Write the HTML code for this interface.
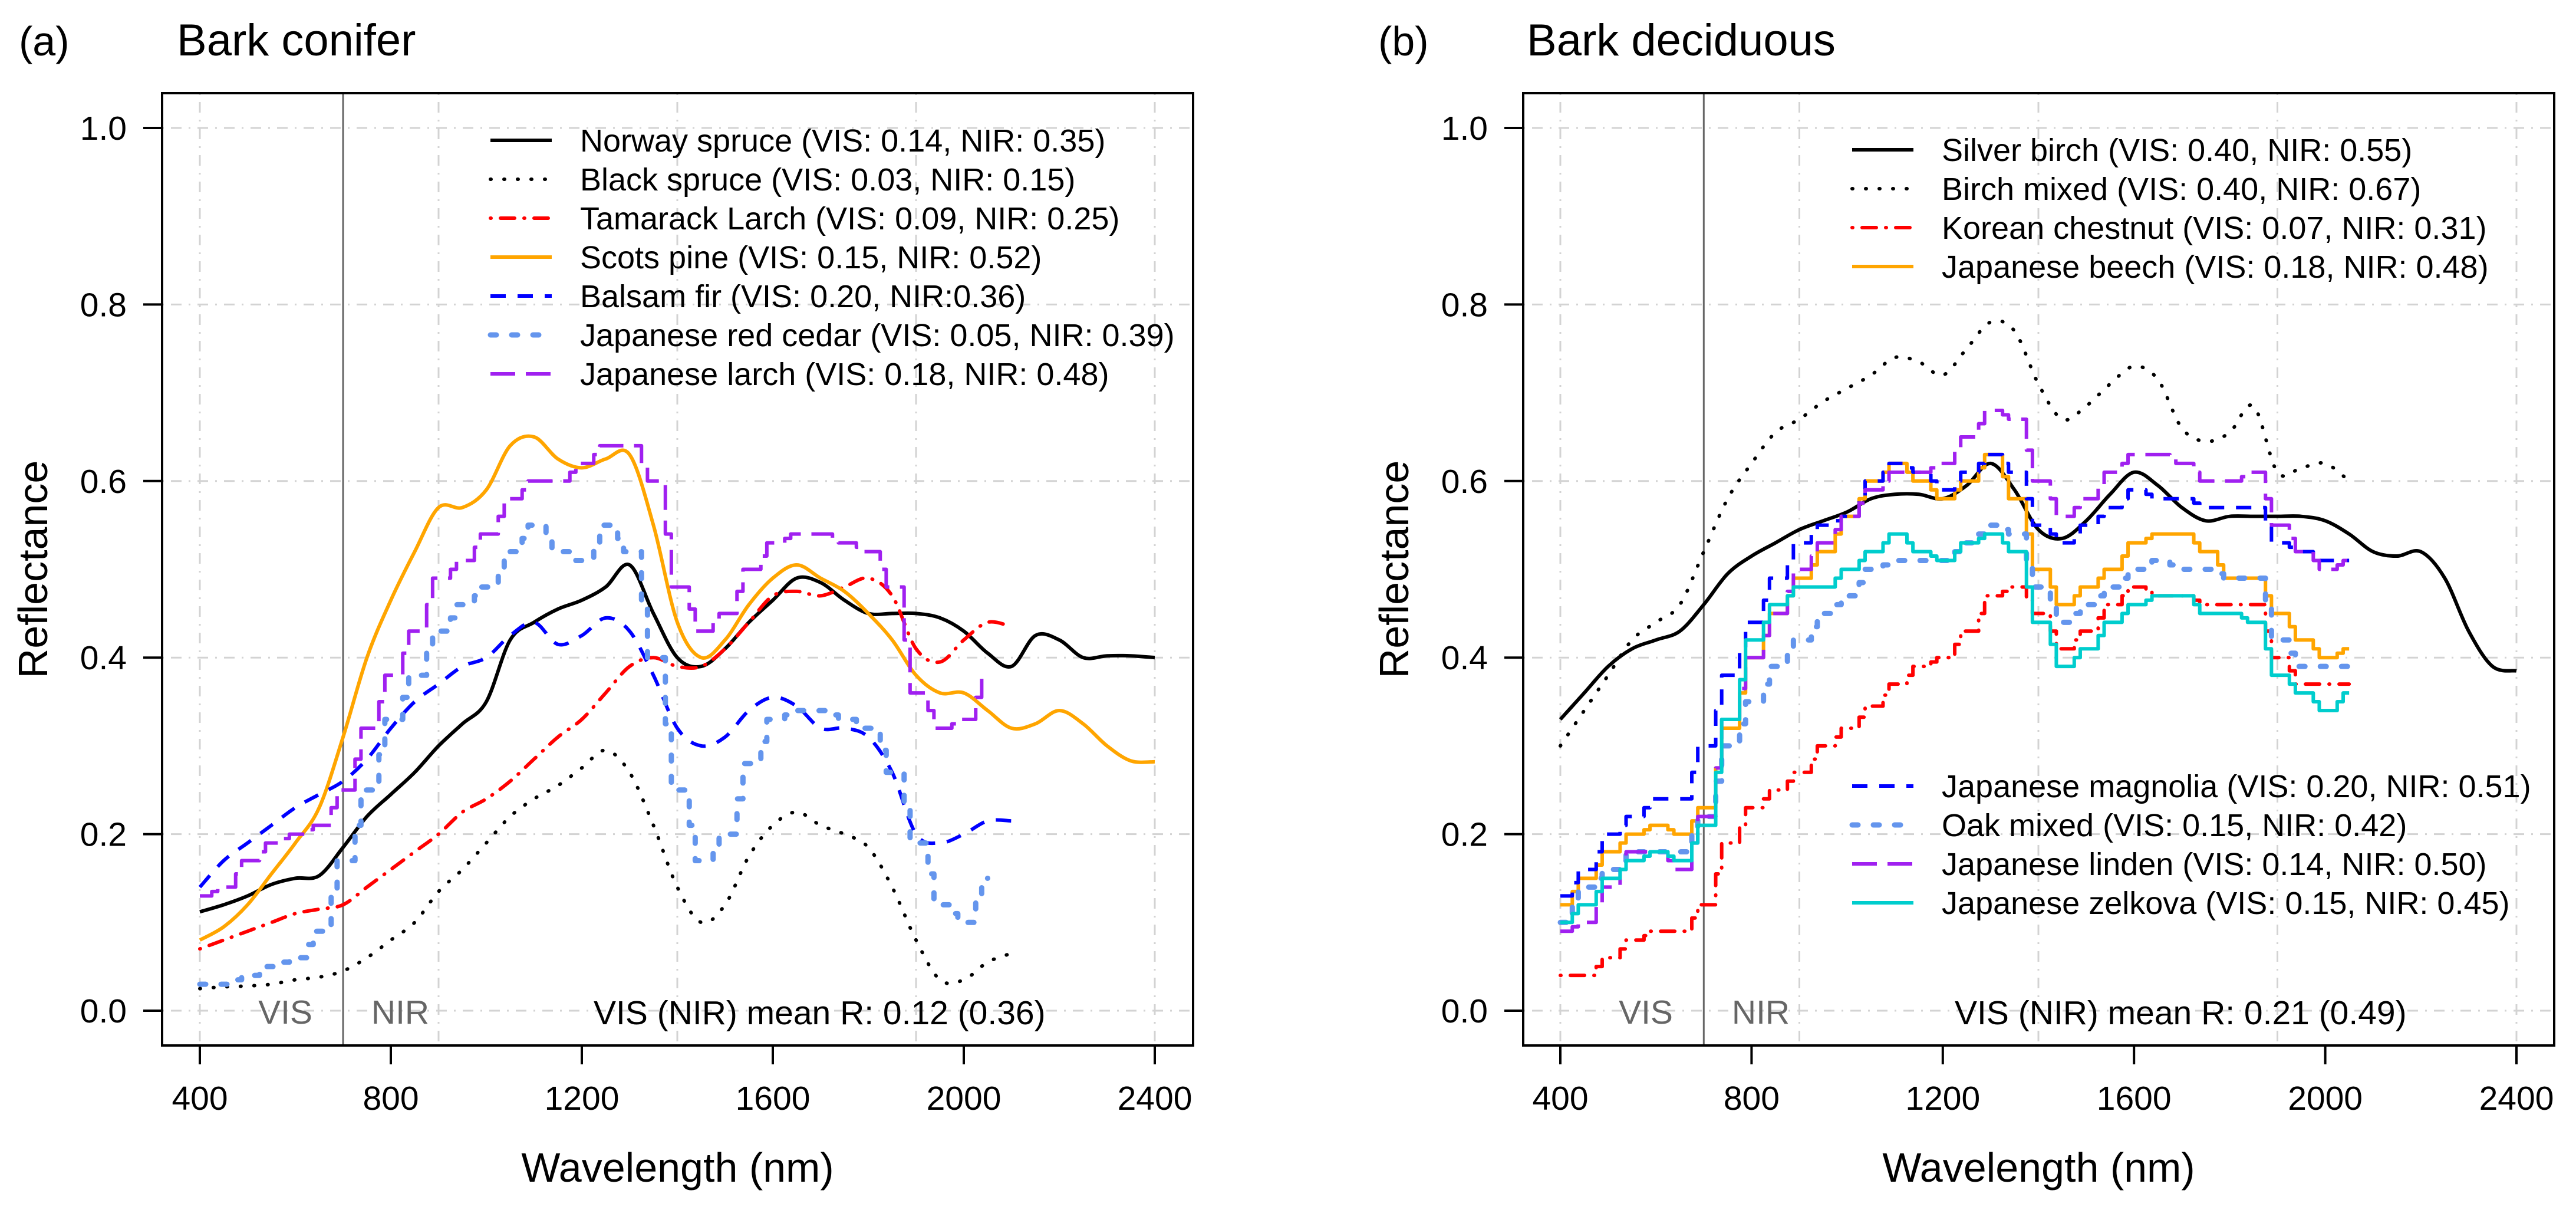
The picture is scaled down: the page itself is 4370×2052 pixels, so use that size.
<!DOCTYPE html>
<html><head><meta charset="utf-8"><style>
html,body{margin:0;padding:0;background:#fff}
svg{display:block}
text{font-family:"Liberation Sans",Arial,sans-serif}
</style></head><body>
<svg id="chart" xmlns="http://www.w3.org/2000/svg" width="4370" height="2052" viewBox="0 0 4370 2052"></svg>
<script>
// ---------- data ----------
const wl2400=[400,450,500,550,600,650,700,750,800,850,900,950,1000,1050,1100,1150,1200,1250,1300,1350,1400,1450,1500,1550,1600,1650,1700,1750,1800,1850,1900,1950,2000,2050,2100,2150,2200,2250,2300,2350,2400];
const wl2100=[400,450,500,550,600,650,700,750,800,850,900,950,1000,1050,1100,1150,1200,1250,1300,1350,1400,1450,1500,1550,1600,1650,1700,1750,1800,1850,1900,1950,2000,2050,2100];
const wl2050=[400,450,500,550,600,650,700,750,800,850,900,950,1000,1050,1100,1150,1200,1250,1300,1350,1400,1450,1500,1550,1600,1650,1700,1750,1800,1850,1900,1950,2000,2050];
const xTicks=[400,800,1200,1600,2000,2400];
const xGrid=[400,900,1400,1900,2400];
const yTicks=[0,0.2,0.4,0.6,0.8,1.0];
const yTickLabels=["0.0","0.2","0.4","0.6","0.8","1.0"];

// panel a
const norwaySpruce=[0.112,0.12,0.13,0.143,0.15,0.153,0.185,0.22,0.245,0.27,0.30,0.325,0.35,0.42,0.44,0.455,0.465,0.48,0.505,0.45,0.40,0.39,0.41,0.44,0.465,0.49,0.485,0.465,0.45,0.45,0.45,0.445,0.43,0.405,0.39,0.425,0.42,0.40,0.402,0.402,0.40];
const blackSpruce=[0.025,0.027,0.028,0.03,0.035,0.038,0.045,0.06,0.08,0.10,0.135,0.16,0.19,0.22,0.24,0.255,0.275,0.295,0.27,0.21,0.14,0.10,0.12,0.175,0.21,0.225,0.21,0.20,0.185,0.14,0.08,0.035,0.035,0.055,0.065];
const tamarackLarch=[0.07,0.08,0.09,0.10,0.11,0.115,0.12,0.14,0.16,0.18,0.20,0.225,0.24,0.26,0.285,0.31,0.33,0.36,0.39,0.40,0.39,0.39,0.41,0.44,0.47,0.475,0.47,0.48,0.49,0.47,0.41,0.395,0.42,0.44,0.435];
const scotsPine=[0.08,0.095,0.12,0.155,0.19,0.23,0.31,0.40,0.465,0.52,0.57,0.57,0.59,0.64,0.65,0.625,0.615,0.625,0.63,0.55,0.44,0.40,0.42,0.46,0.49,0.505,0.49,0.475,0.45,0.42,0.38,0.36,0.36,0.34,0.32,0.325,0.34,0.325,0.30,0.283,0.282];
const balsamFir=[0.14,0.17,0.19,0.21,0.23,0.245,0.26,0.285,0.32,0.35,0.37,0.39,0.40,0.425,0.44,0.415,0.425,0.445,0.43,0.38,0.32,0.30,0.31,0.34,0.355,0.345,0.32,0.32,0.31,0.27,0.20,0.19,0.20,0.215,0.215];
const redCedar=[0.03,0.03,0.04,0.05,0.06,0.09,0.17,0.25,0.33,0.38,0.43,0.46,0.48,0.52,0.55,0.52,0.51,0.55,0.52,0.40,0.25,0.17,0.20,0.28,0.33,0.34,0.34,0.33,0.32,0.27,0.19,0.12,0.10,0.15];
const japLarch=[0.13,0.14,0.17,0.19,0.20,0.21,0.25,0.32,0.38,0.43,0.49,0.51,0.54,0.58,0.60,0.60,0.62,0.64,0.64,0.60,0.48,0.43,0.45,0.50,0.53,0.54,0.54,0.53,0.52,0.48,0.36,0.32,0.33,0.38];
// panel b
const silverBirch=[0.33,0.36,0.39,0.41,0.42,0.43,0.46,0.495,0.515,0.53,0.545,0.555,0.565,0.58,0.585,0.585,0.58,0.595,0.62,0.59,0.545,0.535,0.555,0.585,0.61,0.595,0.57,0.555,0.56,0.56,0.56,0.56,0.555,0.54,0.52,0.515,0.52,0.49,0.43,0.39,0.385];
const birchMixed=[0.30,0.34,0.38,0.42,0.44,0.46,0.52,0.58,0.62,0.655,0.67,0.69,0.705,0.72,0.74,0.735,0.72,0.75,0.78,0.77,0.71,0.67,0.685,0.71,0.73,0.715,0.66,0.645,0.655,0.685,0.61,0.615,0.62,0.60];
const koreanChestnut=[0.04,0.04,0.06,0.08,0.09,0.09,0.12,0.19,0.23,0.25,0.27,0.30,0.32,0.345,0.37,0.39,0.40,0.43,0.47,0.48,0.45,0.41,0.43,0.46,0.48,0.47,0.47,0.46,0.46,0.46,0.40,0.37,0.37,0.37];
const japBeech=[0.12,0.15,0.18,0.20,0.21,0.20,0.23,0.32,0.40,0.45,0.49,0.52,0.56,0.60,0.62,0.60,0.58,0.60,0.63,0.58,0.50,0.46,0.48,0.50,0.53,0.54,0.54,0.52,0.49,0.49,0.45,0.42,0.40,0.41];
const japMagnolia=[0.13,0.16,0.20,0.22,0.24,0.24,0.30,0.38,0.44,0.49,0.53,0.55,0.56,0.60,0.62,0.61,0.59,0.61,0.63,0.61,0.55,0.53,0.55,0.57,0.59,0.58,0.58,0.57,0.57,0.57,0.53,0.52,0.51,0.51];
const oakMixed=[0.10,0.14,0.16,0.18,0.18,0.18,0.22,0.30,0.35,0.39,0.42,0.45,0.47,0.50,0.51,0.51,0.51,0.53,0.55,0.54,0.48,0.44,0.46,0.48,0.50,0.51,0.50,0.50,0.49,0.49,0.42,0.39,0.39,0.39];
const japLinden=[0.09,0.10,0.14,0.18,0.18,0.16,0.22,0.33,0.40,0.45,0.50,0.53,0.56,0.59,0.61,0.61,0.62,0.65,0.68,0.67,0.60,0.56,0.58,0.61,0.63,0.63,0.62,0.60,0.60,0.61,0.55,0.52,0.50,0.51];
const japZelkova=[0.10,0.12,0.15,0.17,0.18,0.17,0.21,0.33,0.42,0.46,0.48,0.48,0.50,0.52,0.54,0.52,0.51,0.53,0.54,0.52,0.44,0.39,0.41,0.44,0.46,0.47,0.47,0.45,0.45,0.44,0.38,0.36,0.34,0.36];

// ---------- styles ----------
const ST={
 solidBlack:{c:"#000",w:6,d:""},
 dotBlack:{c:"#000",w:6,d:"1 22",cap:"round"},
 dotdashRed:{c:"#ff0000",w:6,d:"1 16 24 16",cap:"round"},
 orange:{c:"#ffa500",w:6,d:""},
 dashBlue:{c:"#0000ff",w:6,d:"26 20"},
 dotCorn:{c:"#6495ed",w:9,d:"10 26",cap:"round"},
 longPurple:{c:"#a020f0",w:6,d:"42 18"},
 cyan:{c:"#00cdcd",w:6,d:""}
};

const svg=document.getElementById('chart');
const NS="http://www.w3.org/2000/svg";
function mk(tag,attrs,parent){const e=document.createElementNS(NS,tag);for(const k in attrs)e.setAttribute(k,attrs[k]);(parent||svg).appendChild(e);return e;}
function txt(str,attrs,parent){const e=mk('text',attrs,parent);e.textContent=str;return e;}

function panel(cfg){
 const g=mk('g',{});
 
 
 const x0=cfg.x400, pxPerNm=(cfg.x2400-cfg.x400)/2000;
 const X=w=>x0+(w-400)*pxPerNm;
 const Y=v=>1714-v*1497;
 xGrid.forEach(w=>{const l=mk('line',{x1:X(w),x2:X(w),y1:cfg.top,y2:1773,stroke:"#d3d3d3","stroke-width":3,"stroke-dasharray":"3 12 18 12"},g);
  });
 yTicks.forEach(v=>{const l=mk('line',{x1:cfg.left,x2:cfg.right,y1:Y(v),y2:Y(v),stroke:"#d3d3d3","stroke-width":3,"stroke-dasharray":"3 12 18 12"},g);
  });
 const vl=mk('line',{x1:X(700),x2:X(700),y1:cfg.top,y2:1773,stroke:"#666","stroke-width":3},g);
 
 cfg.series.forEach(s=>{
  const pts=s.y.map((v,i)=>[X(s.x[i]),Y(v)]);
  let d=`M${pts[0][0]},${pts[0][1]}`;
  for(let i=1;i<pts.length;i++){
   const [px,py]=pts[i];
   if(s.step){
    const [qx,qy]=pts[i-1];
    const m=(qx+px)/2;
    d+=` H${m} V${(qy+py)/2} H${(m+px)/2} V${py} H${px}`;
   } else {
    const p0=pts[Math.max(0,i-2)],p1=pts[i-1],p2=pts[i],p3=pts[Math.min(pts.length-1,i+1)];
    const c1x=p1[0]+(p2[0]-p0[0])/6,c1y=p1[1]+(p2[1]-p0[1])/6;
    const c2x=p2[0]-(p3[0]-p1[0])/6,c2y=p2[1]-(p3[1]-p1[1])/6;
    d+=` C${c1x},${c1y} ${c2x},${c2y} ${p2[0]},${p2[1]}`;
   }
  }
  const st=ST[s.style];
  const p=mk('path',{d:d,fill:"none",stroke:st.c,"stroke-width":st.w,"stroke-dasharray":st.d||"none","stroke-linecap":st.cap||"butt","stroke-linejoin":"round"},g);
  
  
 });
 const b=mk('rect',{x:cfg.left,y:cfg.top,width:cfg.right-cfg.left,height:1773-cfg.top,fill:"none",stroke:"#000","stroke-width":4},g);
 
 xTicks.forEach(w=>{const t=mk('line',{x1:X(w),x2:X(w),y1:1773,y2:1805,stroke:"#000","stroke-width":4},g);
  
  const l=txt(String(w),{x:X(w),y:1882,"font-size":57,"text-anchor":"middle"},g);
  });
 yTicks.forEach((v,i)=>{const t=mk('line',{x1:cfg.left-32,x2:cfg.left,y1:Y(v),y2:Y(v),stroke:"#000","stroke-width":4},g);
  
  const l=txt(yTickLabels[i],{x:cfg.left-60,y:Y(v)+20,"font-size":57,"text-anchor":"end"},g);
  });
 const xt=txt("Wavelength (nm)",{x:(cfg.left+cfg.right)/2,y:2004,"font-size":70,"text-anchor":"middle"},g);
 
 const yx=cfg.left-195, yy=(217+1714)/2;
 const yt=txt("Reflectance",{x:yx,y:yy,"font-size":70,"text-anchor":"middle",transform:`rotate(-90 ${yx} ${yy})`},g);
 
 const pl=txt(cfg.label,{x:cfg.labelX,y:94,"font-size":70},g);
 
 const ti=txt(cfg.title,{x:cfg.titleX,y:94,"font-size":76},g);
 
 const vis=txt("VIS",{x:cfg.visX,y:1736,"font-size":57,fill:"#666","text-anchor":"middle"},g);
 
 const nir=txt("NIR",{x:cfg.nirX,y:1736,"font-size":57,fill:"#666","text-anchor":"middle"},g);
 
 const mt=txt(cfg.meanText,{x:cfg.meanX,y:1737,"font-size":57},g);
 
 cfg.legends.forEach(lg=>{
  lg.items.forEach((it,i)=>{
   const yy=lg.y0+i*66;
   const st=ST[it.style];
   const le=mk('g',{},g);
   
   
   mk('line',{x1:lg.x,x2:lg.x+104,y1:yy,y2:yy,stroke:st.c,"stroke-width":st.w,"stroke-dasharray":st.d||"none","stroke-linecap":st.cap||"butt"},le);
   txt(it.t,{x:lg.x+152,y:yy+19,"font-size":54},le);
  });
 });
}

panel({name:"panel-a-bark-conifer",x400:339,x2400:1959,left:275,right:2024,top:158,label:"(a)",labelX:32,title:"Bark conifer",titleX:300,
 visX:484,nirX:679,meanX:1007,meanText:"VIS (NIR) mean R: 0.12 (0.36)",
 series:[
  {id:"norway-spruce",x:wl2400,y:norwaySpruce,style:"solidBlack"},
  {id:"black-spruce",x:wl2100,y:blackSpruce,style:"dotBlack"},
  {id:"tamarack-larch",x:wl2100,y:tamarackLarch,style:"dotdashRed"},
  {id:"scots-pine",x:wl2400,y:scotsPine,style:"orange"},
  {id:"balsam-fir",x:wl2100,y:balsamFir,style:"dashBlue"},
  {id:"japanese-red-cedar",x:wl2050,y:redCedar,style:"dotCorn",step:true},
  {id:"japanese-larch",x:wl2050,y:japLarch,style:"longPurple",step:true}],
 legends:[{x:832,y0:238,items:[
  {t:"Norway spruce (VIS: 0.14, NIR: 0.35)",style:"solidBlack"},
  {t:"Black spruce (VIS: 0.03, NIR: 0.15)",style:"dotBlack"},
  {t:"Tamarack Larch (VIS: 0.09, NIR: 0.25)",style:"dotdashRed"},
  {t:"Scots pine (VIS: 0.15, NIR: 0.52)",style:"orange"},
  {t:"Balsam fir (VIS: 0.20, NIR:0.36)",style:"dashBlue"},
  {t:"Japanese red cedar (VIS: 0.05, NIR: 0.39)",style:"dotCorn"},
  {t:"Japanese larch (VIS: 0.18, NIR: 0.48)",style:"longPurple"}]}]
});

panel({name:"panel-b-bark-deciduous",x400:2647,x2400:4269,left:2584,right:4333,top:158,label:"(b)",labelX:2338,title:"Bark deciduous",titleX:2590,
 visX:2792,nirX:2987,meanX:3316,meanText:"VIS (NIR) mean R: 0.21 (0.49)",
 series:[
  {id:"silver-birch",x:wl2400,y:silverBirch,style:"solidBlack"},
  {id:"birch-mixed",x:wl2050,y:birchMixed,style:"dotBlack"},
  {id:"korean-chestnut",x:wl2050,y:koreanChestnut,style:"dotdashRed",step:true},
  {id:"japanese-beech",x:wl2050,y:japBeech,style:"orange",step:true},
  {id:"japanese-magnolia",x:wl2050,y:japMagnolia,style:"dashBlue",step:true},
  {id:"oak-mixed",x:wl2050,y:oakMixed,style:"dotCorn",step:true},
  {id:"japanese-linden",x:wl2050,y:japLinden,style:"longPurple",step:true},
  {id:"japanese-zelkova",x:wl2050,y:japZelkova,style:"cyan",step:true}],
 legends:[{x:3142,y0:254,items:[
  {t:"Silver birch (VIS: 0.40, NIR: 0.55)",style:"solidBlack"},
  {t:"Birch mixed (VIS: 0.40, NIR: 0.67)",style:"dotBlack"},
  {t:"Korean chestnut  (VIS: 0.07, NIR: 0.31)",style:"dotdashRed"},
  {t:"Japanese beech (VIS: 0.18, NIR: 0.48)",style:"orange"}]},
  {x:3142,y0:1333,items:[
  {t:"Japanese magnolia (VIS: 0.20, NIR: 0.51)",style:"dashBlue"},
  {t:"Oak mixed (VIS: 0.15, NIR: 0.42)",style:"dotCorn"},
  {t:"Japanese linden (VIS: 0.14, NIR: 0.50)",style:"longPurple"},
  {t:"Japanese zelkova (VIS: 0.15, NIR: 0.45)",style:"cyan"}]}]
});
</script>
</body></html>
